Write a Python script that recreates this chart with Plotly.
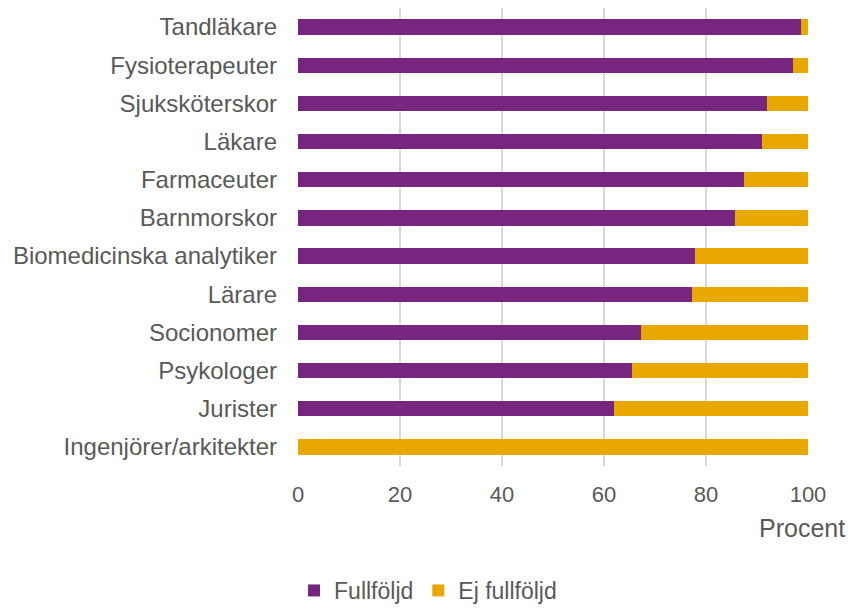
import plotly.graph_objects as go

categories = ["Tandläkare", "Fysioterapeuter", "Sjuksköterskor", "Läkare", "Farmaceuter",
              "Barnmorskor", "Biomedicinska analytiker", "Lärare", "Socionomer",
              "Psykologer", "Jurister", "Ingenjörer/arkitekter"]
fullfoljd = [98.6, 97.0, 92.0, 91.0, 87.4, 85.7, 77.8, 77.3, 67.3, 65.5, 62.0, 0.0]
ej_fullfoljd = [round(100 - v, 1) for v in fullfoljd]
x_ticks = [0, 20, 40, 60, 80, 100]

PURPLE = "#76267f"
GOLD = "#e9a800"
TXT = "#595959"
FONT = "Liberation Sans, Arial, sans-serif"

fig = go.Figure()
fig.add_trace(go.Bar(y=categories, x=fullfoljd, orientation="h", name="Fullföljd",
                     marker=dict(color=PURPLE, line=dict(width=0)), width=0.4))
fig.add_trace(go.Bar(y=categories, x=ej_fullfoljd, orientation="h", name="Ej fullföljd",
                     marker=dict(color=GOLD, line=dict(width=0)), width=0.4))

fig.update_layout(
    barmode="stack",
    width=851, height=604,
    margin=dict(l=290, r=51, t=0, b=146, autoexpand=False),
    plot_bgcolor="white", paper_bgcolor="white",
    font=dict(family=FONT, size=22, color=TXT),
    xaxis=dict(range=[0, 100], tickvals=x_ticks, showgrid=True, gridcolor="#d9d9d9",
               gridwidth=1.5, zeroline=False, ticks="", ticklabelstandoff=13,
               tickfont=dict(size=22, color=TXT), showline=False),
    yaxis=dict(categoryorder="array", categoryarray=categories[::-1],
               showgrid=False, ticks="", ticklabelstandoff=20,
               tickfont=dict(size=24, color=TXT), showline=False),
    legend=dict(orientation="h", x=0.255, xanchor="center", yref="container",
                y=-0.008, yanchor="bottom", tracegroupgap=0,
                font=dict(size=23, color=TXT), traceorder="normal", itemwidth=30),
    showlegend=True,
)
fig.add_annotation(text="Procent", xref="paper", yref="paper", x=1.076, y=-0.135,
                   xanchor="right", yanchor="middle", showarrow=False,
                   font=dict(size=25, color=TXT))

fig.write_html("out.html")
